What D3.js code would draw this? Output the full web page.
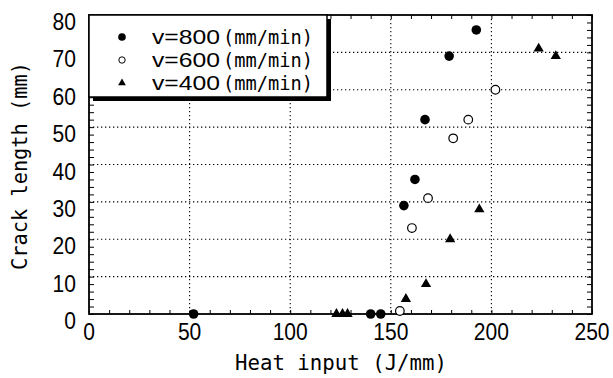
<!DOCTYPE html>
<html>
<head>
<meta charset="utf-8">
<script src="https://cdn.jsdelivr.net/npm/d3@7"></script>
<style>
  body { margin: 0; background: #fff; }
  svg { display: block; }
</style>
</head>
<body>
<div id="chart"></div>
<script>
// datos
const v800 = [[52, 0], [140, 0], [145, 0], [156.5, 29], [162, 36], [167, 52], [179, 69], [192.5, 76]];
const v600 = [[154.5, 0.8], [160.5, 23], [168.5, 31], [181, 47], [188.5, 52], [202, 60]];
const v400 = [[123, 0], [126, 0], [128.5, 0], [157.5, 4], [167.5, 8], [179.5, 20], [194, 28], [223.5, 71], [232, 69]];
const xTicks = [0, 50, 100, 150, 200, 250];
const yTicks = [0, 10, 20, 30, 40, 50, 60, 70, 80];
const legendSpeeds = ["v=800", "v=600", "v=400"];
const legendUnit = "(mm/min)";

const width = 613, height = 378;
const plotLeft = 89, plotRight = 592, plotTop = 15, plotBottom = 314;

const svg = d3.select('#chart').append('svg')
    .attr('width', width)
    .attr('height', height);

const x = d3.scaleLinear().domain([0, 250]).range([plotLeft, plotRight]);
const y = d3.scaleLinear().domain([0, 80]).range([plotBottom, plotTop]);

const numFont = "'Liberation Sans', Arial, sans-serif";
const monoFont = "'DejaVu Sans Mono', 'Liberation Mono', monospace";

// rejilla punteada
svg.append('g').selectAll('line')
    .data(xTicks.slice(1, -1))
    .join('line')
    .attr('x1', d => x(d)).attr('x2', d => x(d))
    .attr('y1', plotTop).attr('y2', plotBottom)
    .attr('stroke', '#000').attr('stroke-width', 1.1)
    .attr('stroke-dasharray', '1.3,2.7');

svg.append('g').selectAll('line')
    .data(yTicks.slice(1, -1))
    .join('line')
    .attr('x1', plotLeft).attr('x2', plotRight)
    .attr('y1', d => y(d)).attr('y2', d => y(d))
    .attr('stroke', '#000').attr('stroke-width', 1.1)
    .attr('stroke-dasharray', '1.3,2.7');

// ticks menores hacia dentro
svg.append('g').call(d3.axisBottom(x).tickValues(d3.range(0, 251, 10)).tickSize(-4).tickFormat(''))
    .attr('transform', `translate(0,${plotBottom})`)
    .call(g => g.select('.domain').remove());
svg.append('g').call(d3.axisTop(x).tickValues(d3.range(0, 251, 10)).tickSize(-4).tickFormat(''))
    .attr('transform', `translate(0,${plotTop})`)
    .call(g => g.select('.domain').remove());
svg.append('g').call(d3.axisLeft(y).tickValues(d3.range(0, 81, 2)).tickSize(-5).tickFormat(''))
    .attr('transform', `translate(${plotLeft},0)`)
    .call(g => g.select('.domain').remove());
svg.append('g').call(d3.axisRight(y).tickValues(d3.range(0, 81, 2)).tickSize(-5).tickFormat(''))
    .attr('transform', `translate(${plotRight},0)`)
    .call(g => g.select('.domain').remove());
svg.selectAll('.tick line').attr('stroke', '#000').attr('stroke-width', 1);

// marco
svg.append('rect')
    .attr('x', plotLeft).attr('y', plotTop)
    .attr('width', plotRight - plotLeft).attr('height', plotBottom - plotTop)
    .attr('fill', 'none').attr('stroke', '#000').attr('stroke-width', 1.8);

// etiquetas de ticks (numeros estrechos)
svg.append('g').selectAll('text')
    .data(xTicks)
    .join('text')
    .attr('x', d => x(d))
    .attr('y', 340)
    .attr('text-anchor', 'middle')
    .attr('font-family', numFont)
    .attr('font-size', 23.5)
    .attr('textLength', d => String(d).length * 11.7)
    .attr('lengthAdjust', 'spacingAndGlyphs')
    .text(d => d);

svg.append('g').selectAll('text')
    .data(yTicks)
    .join('text')
    .attr('x', 76)
    .attr('y', d => y(d) + 15)
    .attr('text-anchor', 'end')
    .attr('font-family', numFont)
    .attr('font-size', 23.5)
    .attr('textLength', d => String(d).length * 11.7)
    .attr('lengthAdjust', 'spacingAndGlyphs')
    .text(d => d);

// titulos de ejes
svg.append('text')
    .attr('x', 341).attr('y', 370)
    .attr('text-anchor', 'middle')
    .attr('font-family', monoFont)
    .attr('font-size', 21)
    .attr('textLength', 212)
    .attr('lengthAdjust', 'spacingAndGlyphs')
    .text('Heat input (J/mm)');

svg.append('text')
    .attr('transform', 'translate(27,166) rotate(-90)')
    .attr('text-anchor', 'middle')
    .attr('font-family', monoFont)
    .attr('font-size', 21)
    .attr('textLength', 208)
    .attr('lengthAdjust', 'spacingAndGlyphs')
    .text('Crack length (mm)');

// puntos
const tri = d3.symbol().type(d3.symbolTriangle).size(46);

svg.append('g').selectAll('circle')
    .data(v800)
    .join('circle')
    .attr('cx', d => x(d[0])).attr('cy', d => y(d[1]))
    .attr('r', 4.8)
    .attr('fill', '#000');

svg.append('g').selectAll('circle')
    .data(v600)
    .join('circle')
    .attr('cx', d => x(d[0])).attr('cy', d => y(d[1]))
    .attr('r', 4.3)
    .attr('fill', '#fff')
    .attr('stroke', '#000')
    .attr('stroke-width', 1.2);

svg.append('g').selectAll('path')
    .data(v400)
    .join('path')
    .attr('transform', d => `translate(${x(d[0])},${y(d[1])})`)
    .attr('d', tri)
    .attr('fill', '#000');

// leyenda con sombra
const lg = svg.append('g');
lg.append('rect')
    .attr('x', plotLeft + 4).attr('y', plotTop + 4)
    .attr('width', 238).attr('height', 82)
    .attr('fill', '#000');
lg.append('rect')
    .attr('x', plotLeft).attr('y', plotTop)
    .attr('width', 238).attr('height', 82)
    .attr('fill', '#fff')
    .attr('stroke', '#000')
    .attr('stroke-width', 1.5);

const rows = [37, 60, 83];
lg.append('circle').attr('cx', 122).attr('cy', rows[0]).attr('r', 3.8).attr('fill', '#000');
lg.append('circle').attr('cx', 122).attr('cy', rows[1]).attr('r', 3.2)
    .attr('fill', '#fff').attr('stroke', '#000').attr('stroke-width', 1);
lg.append('path').attr('transform', `translate(122,${rows[2]})`)
    .attr('d', d3.symbol().type(d3.symbolTriangle).size(26)).attr('fill', '#000');

lg.selectAll('text.spd')
    .data(legendSpeeds)
    .join('text')
    .attr('class', 'spd')
    .attr('x', 152)
    .attr('y', (d, i) => rows[i] + 7)
    .attr('font-family', numFont)
    .attr('font-size', 20)
    .attr('textLength', 68)
    .attr('lengthAdjust', 'spacingAndGlyphs')
    .text(d => d);

lg.selectAll('text.unit')
    .data(legendSpeeds)
    .join('text')
    .attr('class', 'unit')
    .attr('x', 223)
    .attr('y', (d, i) => rows[i] + 7)
    .attr('font-family', monoFont)
    .attr('font-size', 19)
    .attr('textLength', 90)
    .attr('lengthAdjust', 'spacingAndGlyphs')
    .text(legendUnit);
</script>
</body>
</html>
